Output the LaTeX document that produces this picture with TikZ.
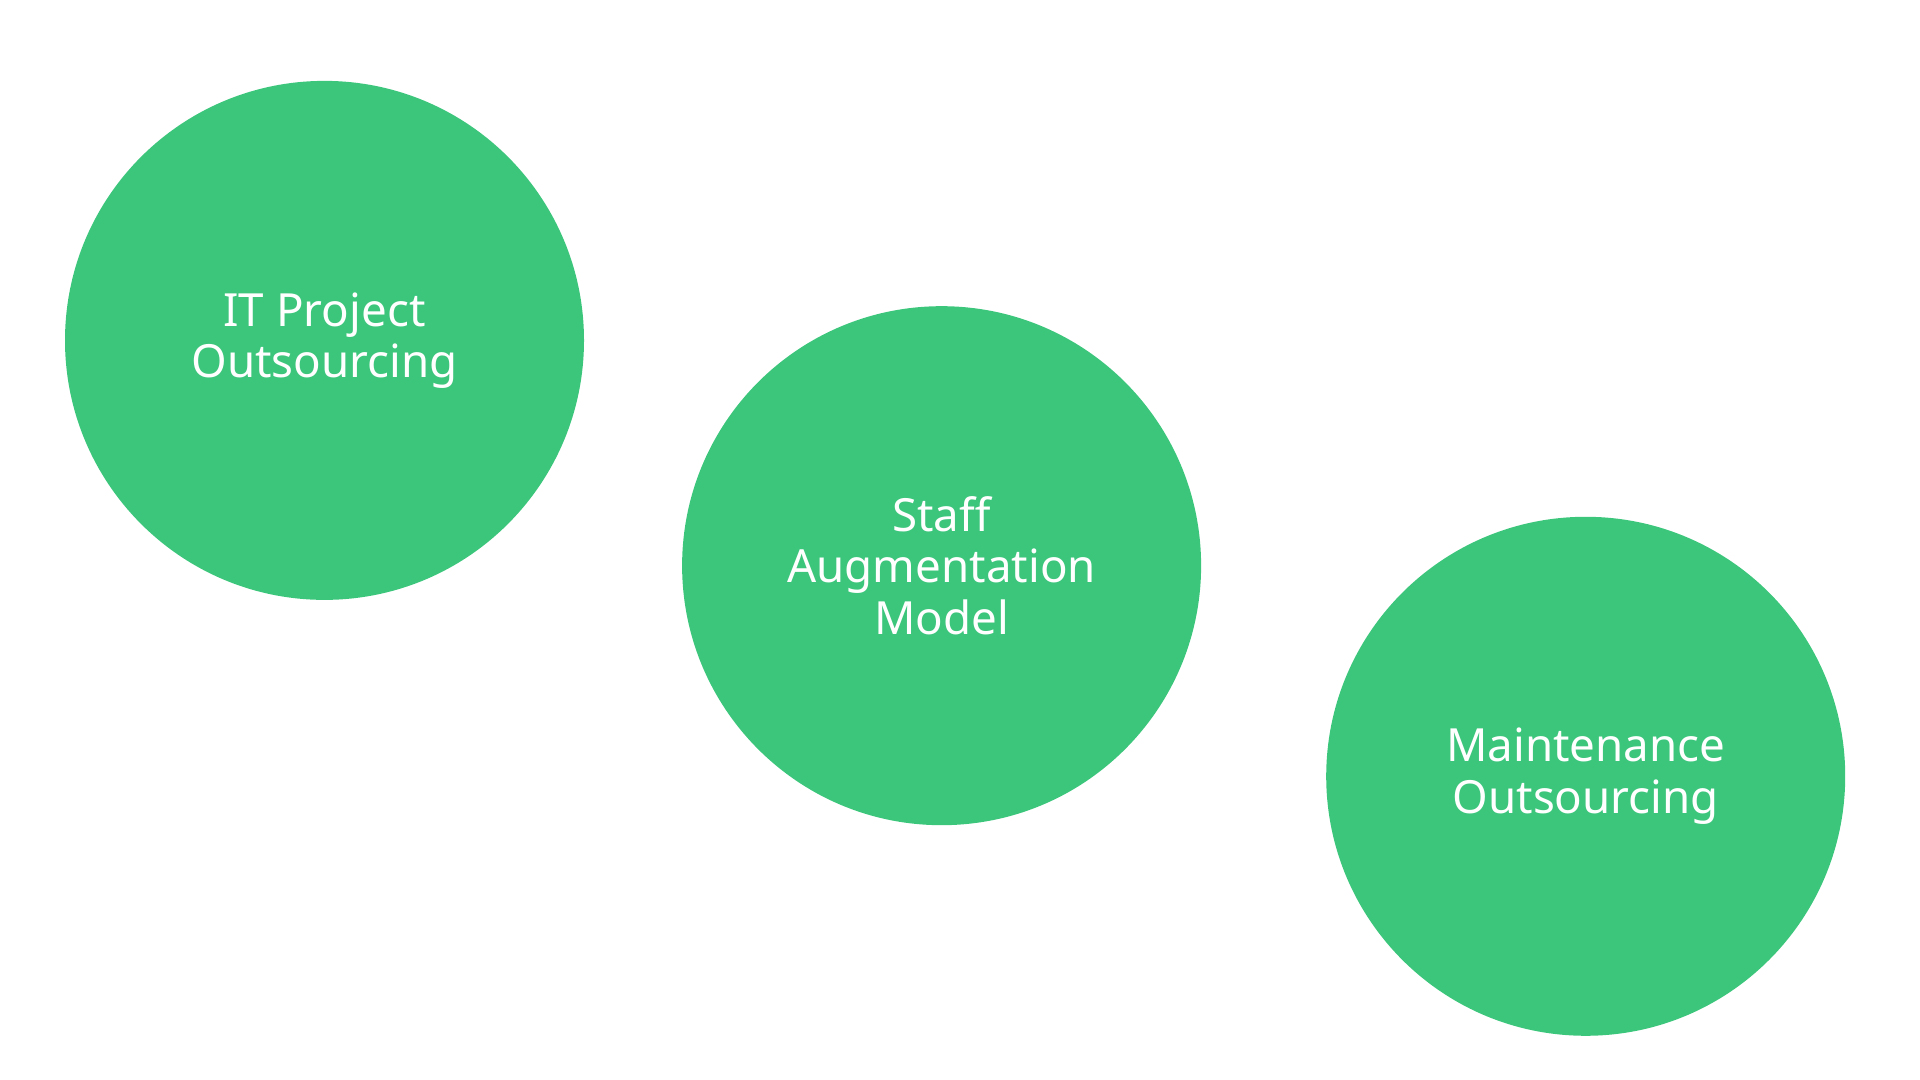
\documentclass[tikz,border=0pt]{standalone}
\usepackage{fontspec}
\setmainfont{Noto Sans}
\definecolor{bubblegreen}{HTML}{3CC67C}
\begin{document}
\begin{tikzpicture}[
  bubble/.style={circle, fill=bubblegreen, minimum size=5.19cm, align=center,
    text=white, font=\fontsize{13}{14.6}\selectfont}]
% Fixed frame
\useasboundingbox (0,0) rectangle (19.2,10.8);

% Bubbles
\node[bubble] (project) at (3.245,7.396) {IT Project\\Outsourcing};
\node[bubble] (staff) at (9.416,5.143) {Staff\\Augmentation\\Model};
\node[bubble] (maintenance) at (15.857,3.037) {Maintenance\\Outsourcing};

\end{tikzpicture}
\end{document}
